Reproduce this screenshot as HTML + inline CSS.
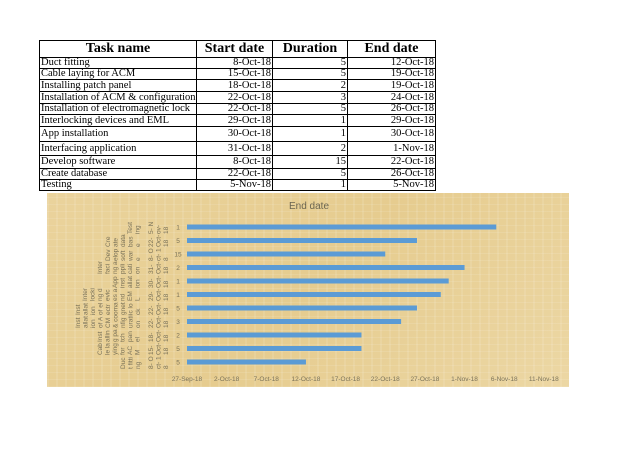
<!DOCTYPE html>
<html><head><meta charset="utf-8"><style>
body{margin:0;width:638px;height:451px;background:#fff;position:relative;overflow:hidden;font-family:"Liberation Serif",serif}
table{position:absolute;left:39px;top:40px;border-collapse:collapse;font-size:10.5px;line-height:10px;table-layout:fixed;width:396px}
td,th{border:1px solid #000;padding:0 1px;white-space:nowrap;overflow:hidden}
th{font-size:14px;font-weight:bold;height:16px}
td.r{text-align:right}
#chart{position:absolute;left:47px;top:193px;width:522px;height:194px;
background:repeating-linear-gradient(90deg,rgba(255,255,255,0.10) 0 2px,rgba(0,0,0,0) 2px 9px),repeating-linear-gradient(0deg,rgba(255,255,255,0.10) 0 1px,rgba(0,0,0,0) 1px 7px),linear-gradient(135deg,#ead39c,#e6cc8f 50%,#ecd7a4);}
svg{position:absolute;left:0;top:0}
.lab{position:absolute;writing-mode:vertical-rl;transform:rotate(180deg);font-family:"Liberation Sans",sans-serif;font-size:6.5px;line-height:7.5px;color:#7a7258;height:13px;word-break:break-all}
</style></head><body>
<table>
<colgroup><col style="width:157px"><col style="width:76px"><col style="width:75px"><col style="width:88px"></colgroup>
<tr style="height:16px"><th>Task name</th><th>Start date</th><th>Duration</th><th>End date</th></tr>
<tbody id="tb"></tbody>
</table>
<div id="chart">
<svg id="svg" width="522" height="194"></svg>
</div>
<script>
const tasks=["Duct fitting","Cable laying for ACM","Installing patch panel","Installation of  ACM & configuration","Installation of electromagnetic lock","Interlocking devices and EML","App installation","Interfacing application","Develop software","Create database","Testing"];
const startDates=["8-Oct-18","15-Oct-18","18-Oct-18","22-Oct-18","22-Oct-18","29-Oct-18","30-Oct-18","31-Oct-18","8-Oct-18","22-Oct-18","5-Nov-18"];
const durations=[5,5,2,3,5,1,1,2,15,5,1];
const endDates=["12-Oct-18","19-Oct-18","19-Oct-18","24-Oct-18","26-Oct-18","29-Oct-18","30-Oct-18","1-Nov-18","22-Oct-18","26-Oct-18","5-Nov-18"];
const tickLabels=["27-Sep-18","2-Oct-18","7-Oct-18","12-Oct-18","17-Oct-18","22-Oct-18","27-Oct-18","1-Nov-18","6-Nov-18","11-Nov-18"];
const rowH=[11,11,12,12,11,12,15,14,13,9,10];
const mon={Sep:8,Oct:9,Nov:10,Dec:11};
function dayNum(s){const p=s.split('-');return Date.UTC(2000+ +p[2],mon[p[1]],+p[0])/864e5;}
const origin=dayNum("27-Sep-18");
const tb=document.getElementById('tb');
tasks.forEach((t,i)=>{const tr=document.createElement('tr');


tr.style.height=rowH[i]+'px';
tr.innerHTML='<td>'+t.replace(/&/g,'&amp;')+'</td><td class="r">'+startDates[i]+'</td><td class="r">'+durations[i]+'</td><td class="r">'+endDates[i]+'</td>';
tb.appendChild(tr);});
const svg=document.getElementById('svg');const NS='http://www.w3.org/2000/svg';
const X0=140,PX=7.93;
const xs=d=>X0+d*PX;
const rowY=i=>34+(tasks.length-1-i)*13.5;
function txt(x,y,s,size,anchor,fill){const e=document.createElementNS(NS,'text');e.setAttribute('x',x);e.setAttribute('y',y);e.setAttribute('font-size',size);e.setAttribute('text-anchor',anchor);e.setAttribute('fill',fill);e.setAttribute('font-family','Liberation Sans, sans-serif');e.textContent=s;svg.appendChild(e);return e;}
const title=txt(262,16,"End date",10,"middle","#6b6550");


tickLabels.forEach((l,k)=>{const e=txt(xs(dayNum(l)-origin),188,l,6.5,"middle","#7a7258");

});
const chart=document.getElementById('chart');
tasks.forEach((t,i)=>{const y=rowY(i);const v=dayNum(endDates[i])-origin;
const r=document.createElementNS(NS,'rect');r.setAttribute('x',xs(0));r.setAttribute('y',y-2.5);r.setAttribute('width',v*PX);r.setAttribute('height',5);r.setAttribute('fill','#5b9bd5');


svg.appendChild(r);
const d=txt(131,y+2.3,String(durations[i]),6.5,"middle","#7a7258");


const dl=document.createElement('div');dl.className='lab';dl.textContent=startDates[i].replace(/-/g,'- ');
dl.style.left='101px';dl.style.top=(y-6.5)+'px';


chart.appendChild(dl);
const tl=document.createElement('div');tl.className='lab';tl.textContent=t;
tl.style.right=(522-95)+'px';tl.style.top=(y-6.5)+'px';


chart.appendChild(tl);});
</script>
</body></html>
